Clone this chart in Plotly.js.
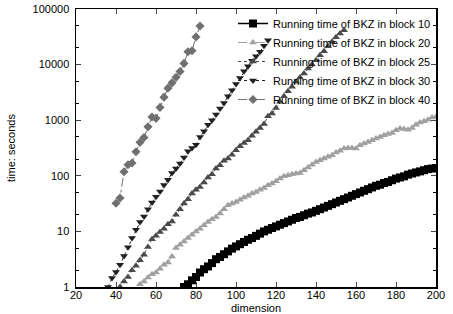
<!DOCTYPE html>
<html>
<head>
<meta charset="utf-8">
<script src="https://cdn.plot.ly/plotly-3.0.1.min.js"></script>
<style>html,body{margin:0;padding:0;background:#fff;}#chart{width:453px;height:314px;}</style>
</head>
<body>
<div id="chart"></div>
<script>
// ---- data ----
const seriesNames = [
  "Running time of BKZ in block 10",
  "Running time of BKZ in block 20",
  "Running time of BKZ in block 25",
  "Running time of BKZ in block 30",
  "Running time of BKZ in block 40"
];

const dimB10 = [74,76,78,80,82,84,86,88,90,92,94,96,98,100,102,104,106,108,110,112,114,116,118,120,122,124,126,128,130,132,134,136,138,140,142,144,146,148,150,152,154,156,158,160,162,164,166,168,170,172,174,176,178,180,182,184,186,188,190,192,194,196,198,200];
const timeB10 = [1.0,1.12,1.32,1.51,1.82,2.09,2.34,2.69,3.16,3.47,3.89,4.37,4.9,5.37,5.89,6.46,7.08,7.59,8.32,9.12,10,10.7,11.5,12.3,13.2,14.1,15.1,16.2,17.4,18.2,19.5,20.9,21.9,23.4,25.1,26.9,28.8,30.9,33.1,35.5,38.0,40.7,43.7,46.8,50.1,53.7,57.5,61.7,66.1,69.2,74.1,77.6,83.2,89.1,93.3,97.7,105,110,115,120,126,132,135,138];

const dimB20 = [52,54,56,58,60,62,64,66,68,70,72,74,76,78,80,82,84,86,88,90,92,94,96,98,100,102,104,106,108,110,112,114,116,118,120,122,124,126,128,130,132,134,136,138,140,142,144,146,148,150,152,154,156,158,160,162,164,166,168,170,172,174,176,178,180,182,184,186,188,190,192,194,196,198,200];
const timeB20 = [1.12,1.26,1.48,1.70,1.82,2.14,2.51,2.75,3.55,5.01,5.75,6.61,7.59,8.71,10,11.2,12.9,14.8,16.6,18.2,20.9,25.1,29.5,31.6,33.9,37.2,40.7,43.7,47.9,51.3,56.2,60.3,67.6,72.4,79.4,89.1,97.7,102,107,110,112,126,141,158,178,191,204,219,234,263,282,309,316,316,309,355,380,407,437,468,501,537,562,589,661,708,692,676,724,832,912,955,1023,1122,1148];

const dimB25 = [42,44,46,48,50,52,54,56,58,60,62,64,66,68,70,72,74,76,78,80,82,84,86,88,90,92,94,96,98,100,102,104,106,108,110,112,114,116,118,120,122,124,126,128,130,132,134,136,138,140,142,144,146,148,150,152,154];
const timeB25 = [1.0,1.26,1.51,2.0,2.4,3.02,3.8,5.25,7.24,8.32,9.77,11.2,13.5,15.1,20,25.1,31.6,38,47.9,56.2,63.1,75.9,93.3,107,135,155,186,204,240,288,339,389,437,525,617,724,851,1175,1318,1660,2138,2692,3311,3981,4898,5888,6918,8511,10000,12023,14791,17378,21380,25704,30903,36308,41687];

const dimB30 = [36,38,40,42,44,46,48,50,52,54,56,58,60,62,64,66,68,70,72,74,76,78,80,82,84,86,88,90,92,94,96,98,100,102,104,106,108,110,112,114,116];
const timeB30 = [1.0,1.45,1.86,2.5,3.6,5.2,7.6,10.7,14.8,18.6,25,33,42,52,68,85,112,135,166,214,275,316,363,501,631,832,1000,1260,1620,2040,2690,3470,4470,5750,7590,9330,11700,14100,17000,21900,27500];

const dimB40 = [40,42,44,46,48,50,52,54,56,58,60,62,64,66,68,70,72,74,76,78,80,82];
const timeB40 = [32,40,118,158,170,270,400,490,760,1140,1080,1700,2600,3770,4700,5900,7500,10500,17000,17800,31500,49600];

const xTickVals = [20,40,60,80,100,120,140,160,180,200];
const yTickVals = [1,10,100,1000,10000,100000];
const yTickText = ["1","10","100","1000","10000","100000"];

// ---- traces ----
const font = "Liberation Sans, Arial, Helvetica, sans-serif";
const traces = [
  {x: dimB10, y: timeB10, name: seriesNames[0], mode: "lines+markers",
   line: {color: "#000000", width: 1.5, dash: "solid"},
   marker: {symbol: "square", size: 8, color: "#000000"}},
  {x: dimB20, y: timeB20, name: seriesNames[1], mode: "lines+markers",
   line: {color: "#a0a0a0", width: 1, dash: "dash"},
   marker: {symbol: "triangle-up", size: 7, color: "#a0a0a0"}},
  {x: dimB25, y: timeB25, name: seriesNames[2], mode: "lines+markers",
   line: {color: "#4a4a4a", width: 1, dash: "dot"},
   marker: {symbol: "triangle-up", size: 7, color: "#4a4a4a"}},
  {x: dimB30, y: timeB30, name: seriesNames[3], mode: "lines+markers",
   line: {color: "#202020", width: 1, dash: "dot"},
   marker: {symbol: "triangle-down", size: 7, color: "#202020"}},
  {x: dimB40, y: timeB40, name: seriesNames[4], mode: "lines+markers",
   line: {color: "#707070", width: 1, dash: "dashdot"},
   marker: {symbol: "diamond", size: 7, color: "#707070"}}
];

const layout = {
  width: 453, height: 314,
  margin: {l: 76, r: 17, t: 9, b: 27, pad: 0},
  paper_bgcolor: "#ffffff", plot_bgcolor: "#ffffff",
  font: {family: font, size: 11, color: "#000000"},
  showlegend: true,
  legend: {x: 1, xanchor: "right", y: 1, yanchor: "top", bgcolor: "rgba(0,0,0,0)",
           font: {family: font, size: 11, color: "#000"}, itemwidth: 30, tracegroupgap: 0},
  xaxis: {
    range: [20, 200], tickvals: xTickVals, ticks: "inside", ticklen: 5, tickwidth: 1,
    showline: true, linecolor: "#000", linewidth: 1.5, mirror: "ticks",
    showgrid: false, zeroline: false, tickfont: {size: 11, family: font},
    ticklabelstandoff: -3, automargin: false,
    title: {text: "dimension", font: {size: 11, family: font}}
  },
  yaxis: {
    type: "log", range: [0, 5], tickvals: yTickVals, ticktext: yTickText,
    ticks: "inside", ticklen: 5, tickwidth: 1,
    minor: {ticks: "inside", ticklen: 3, dtick: "D2", tickcolor: "#000", showgrid: false},
    showline: true, linecolor: "#000", linewidth: 1.5, mirror: "ticks",
    showgrid: false, zeroline: false, tickfont: {size: 11, family: font},
    ticklabelstandoff: 3,
    title: {text: "time: seconds", font: {size: 11, family: font}, standoff: 14}
  }
};

Plotly.newPlot("chart", traces, layout, {displayModeBar: false, staticPlot: true});
</script>
</body>
</html>
